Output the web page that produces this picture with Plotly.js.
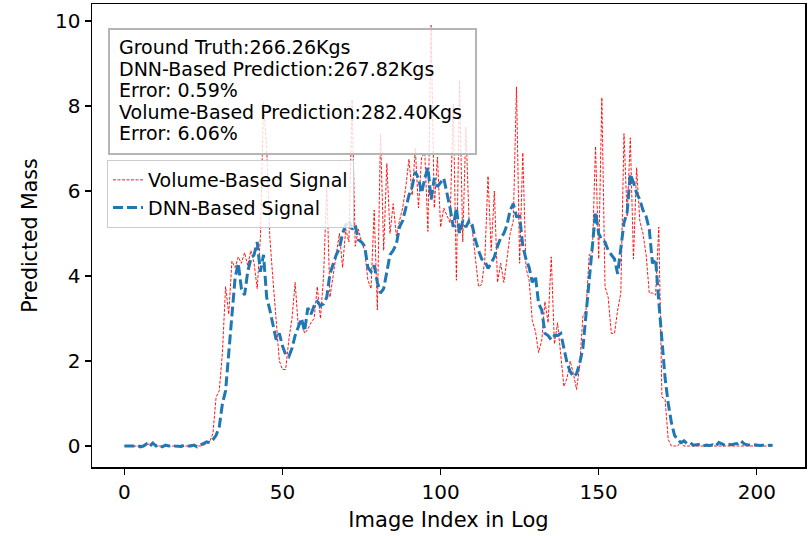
<!DOCTYPE html>
<html>
<head>
<meta charset="utf-8">
<script src="https://cdn.plot.ly/plotly-3.0.1.min.js"></script>
<style>html,body{margin:0;padding:0;background:#fff;}#chart{width:811px;height:536px;}</style>
</head>
<body>
<div id="chart"></div>
<script>
const volumeSignal = [
0,0,0,0,0,0.02,0,0.03,0.05,0.08,
0.02,0,0,0,0.01,0,0,0,0.02,0,
0,0.03,0,0,0,0.02,0.05,0.1,0.3,1.15,
1.3,2.2,3.75,3.1,4.35,4.2,4.45,4.3,4.55,4.25,
4.6,4.3,3.7,4.9,8.1,7.0,4.9,3.9,3.0,2.0,
1.8,1.8,2.5,3.0,3.85,2.8,2.9,2.65,2.75,2.9,
3.0,3.75,3.0,4.0,6.1,3.5,4.0,4.5,5.0,4.2,
5.1,4.8,8.15,4.7,5.1,4.8,4.6,3.9,3.7,5.55,
3.2,7.35,4.6,6.65,5.0,5.7,4.95,5.3,5.6,6.1,
6.75,5.9,7.0,5.6,6.8,6.9,5.05,9.9,5.6,6.8,
5.15,5.6,5.4,5.25,8.05,3.9,8.6,4.8,7.5,5.3,
5.1,4.4,3.75,3.8,4.4,6.35,4.6,6.0,3.85,4.3,
3.85,4.4,5.0,5.3,8.45,4.3,6.9,4.2,3.9,2.95,
2.7,2.2,2.5,3.4,2.9,4.45,2.4,2.9,2.2,1.4,
1.6,2.0,1.7,1.33,1.9,3.05,3.2,4.5,4.55,7.05,
4.4,8.2,3.75,3.5,2.65,2.65,3.2,3.6,7.35,5.4,
7.25,4.4,6.55,5.3,5.0,4.5,3.6,3.6,3.55,5.15,
1.15,1.1,0.15,0,0,0,0.1,0,0,0,
0,0,0,0,0,0,0,0,0,0,
0,0,0,0,0,0,0,0,0,0,
0,0,0,0,0,0
];
const dnnSignal = [
0,0,0.01,0,0.02,-0.02,0,0.05,-0.01,0.07,
0,0.03,-0.02,0.02,0,0.01,0,0,-0.01,0.02,
0,0,0.02,-0.02,0.03,0.06,0.1,0.08,0.15,0.25,
0.45,1.0,1.3,2.2,3.2,3.95,4.3,3.7,3.55,4.1,
4.4,4.5,4.8,4.1,4.5,3.5,3.2,2.85,2.5,2.65,
2.35,2.15,2.1,2.3,2.6,2.8,3.0,2.7,3.25,3.1,
3.3,3.4,3.3,3.35,3.5,4.05,4.3,4.5,4.65,5.0,
5.2,5.3,5.1,5.2,4.85,4.8,4.7,4.2,4.1,4.25,
3.85,3.6,3.7,4.1,4.5,4.6,4.75,5.15,5.3,5.6,
5.9,6.1,6.45,6.3,5.95,6.3,6.55,5.8,6.3,6.1,
6.2,6.3,5.95,5.6,5.15,5.6,5.0,5.3,5.15,5.3,
5.2,4.85,4.6,4.4,4.35,4.18,4.3,4.45,4.7,4.9,
5.0,5.2,5.55,5.7,5.4,5.4,4.7,4.4,4.2,3.85,
4.0,3.35,3.2,2.65,2.6,2.5,2.6,2.6,2.65,2.3,
1.95,1.75,1.63,1.7,1.95,2.3,3.1,4.05,4.85,5.5,
5.0,4.85,4.8,4.6,4.5,4.4,4.05,4.6,5.25,5.5,
6.4,6.2,5.95,5.8,5.55,5.4,5.1,4.3,4.4,3.4,
2.5,1.6,1.0,0.55,0.25,0.15,0.08,0.12,0.05,0.07,
0.02,0.03,0.04,0,0.02,0.01,0.03,0,0.08,0.05,
0.01,0.04,0.03,0.05,0.06,0.12,0.05,0.03,0.02,0.03,
0.02,0.01,0.02,0.01,0.02,0.01
];
const imageIndex = volumeSignal.map((_, i) => i);
const xTicks = [0, 50, 100, 150, 200];
const yTicks = [0, 2, 4, 6, 8, 10];
const infoLines = [
  "Ground Truth:266.26Kgs",
  "DNN-Based Prediction:267.82Kgs",
  "Error: 0.59%",
  "Volume-Based Prediction:282.40Kgs",
  "Error: 6.06%"
];
const seriesNames = ["Volume-Based Signal", "DNN-Based Signal"];

const FONT = "DejaVu Sans, Verdana, sans-serif";
const H = 463, TOP = 4, L = 92, W = 713;
const py = p => 1 - (p - TOP) / H;
const px = p => (p - L) / W;

const traces = [
  {x: imageIndex, y: volumeSignal, type: "scatter", mode: "lines", name: seriesNames[0],
   line: {color: "#ff0000", width: 0.9, dash: "3px,1.5px"}},
  {x: imageIndex, y: dnnSignal, type: "scatter", mode: "lines", name: seriesNames[1],
   line: {color: "#1f77b4", width: 3, dash: "10px,4px"}}
];

const lineY = [47, 69, 90, 112, 133];
const annotations = infoLines.map((t, k) => ({
  text: t, xref: "paper", yref: "paper", x: px(117), y: py(lineY[k]),
  xanchor: "left", yanchor: "middle", showarrow: false,
  font: {family: FONT, size: 19, color: "#000"}
}));

const layout = {
  width: 811, height: 536,
  margin: {l: L, r: 6, t: TOP, b: 69},
  paper_bgcolor: "#fff", plot_bgcolor: "#fff",
  font: {family: FONT, size: 19, color: "#000"},
  showlegend: true,
  legend: {x: px(107), y: py(160), xanchor: "left", yanchor: "top",
    bgcolor: "rgba(255,255,255,0.8)", bordercolor: "#cccccc", borderwidth: 1,
    font: {family: FONT, size: 19}, itemwidth: 30, tracegroupgap: 0},
  xaxis: {range: [-10.25, 215.25], tickvals: xTicks, ticktext: xTicks.map(String),
    showgrid: false, zeroline: false, showline: true, mirror: true, linecolor: "#000", linewidth: 1.5,
    ticks: "outside", ticklen: 6, tickwidth: 1.2, tickcolor: "#000",
    tickfont: {family: FONT, size: 20},
    title: {text: "Image Index in Log", font: {family: FONT, size: 21}, standoff: 10}},
  yaxis: {range: [-0.494, 10.4], tickvals: yTicks, ticktext: yTicks.map(String),
    showgrid: false, zeroline: false, showline: true, mirror: true, linecolor: "#000", linewidth: 1.5,
    ticks: "outside", ticklen: 6, tickwidth: 1.2, tickcolor: "#000",
    tickfont: {family: FONT, size: 20},
    title: {text: "Predicted Mass", font: {family: FONT, size: 20.5}, standoff: 12}},
  shapes: [{type: "rect", xref: "paper", yref: "paper", layer: "above",
    x0: px(109), x1: px(476), y0: py(154), y1: py(29),
    line: {color: "#b5b5b5", width: 2}, fillcolor: "rgba(255,255,255,0.8)"}],
  annotations: annotations
};

Plotly.newPlot("chart", traces, layout, {displayModeBar: false, staticPlot: true});
</script>
</body>
</html>
